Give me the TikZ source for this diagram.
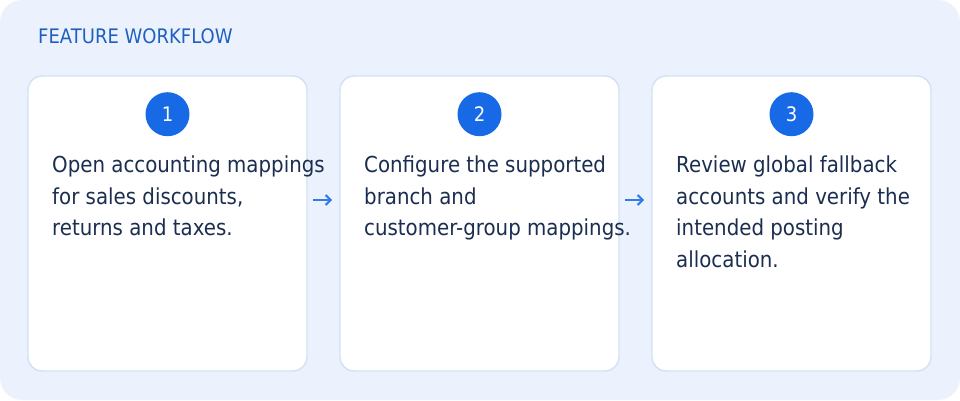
\documentclass[tikz,border=0pt]{standalone}
\usepackage{fontspec}
\setmainfont{DejaVu Sans}[FakeStretch=0.9]
\usepackage{tikz}
\usetikzlibrary{
	arrows.meta,
	positioning,
	calc
}
\definecolor{panelbg}{HTML}{EBF2FE}
\definecolor{cardline}{HTML}{D3E1F5}
\definecolor{badgeblue}{HTML}{1769E5}
\definecolor{titleblue}{HTML}{1F5FBF}
\definecolor{bodytext}{HTML}{1C2E50}
\definecolor{flowblue}{HTML}{2F7CEB}

\begin{document}
\begin{tikzpicture}[
			x=1pt, y=1pt,
			card/.style={
				rectangle, draw=cardline, line width=1.4pt, rounded corners=14pt,
				fill=white, minimum width=279pt, minimum height=295pt,
				inner sep=0pt, outer sep=0pt
			},
			badge/.style={
				circle, fill=badgeblue, minimum size=44pt, inner sep=0pt,
				text=white, font=\fontsize{20}{22}\selectfont
			},
			desc/.style={
				anchor=north west, align=left, inner sep=0pt,
				text=bodytext, font=\fontsize{22}{31.5}\selectfont
			},
			arrow/.style={-{Straight Barb[length=5pt,width=10pt]}, line width=2pt, flowblue,
				shorten <=6pt, shorten >=8pt}
			]
			
			% ---------------- PANEL ----------------
			\useasboundingbox (0,0) rectangle (960,400);
			\fill[panelbg, rounded corners=22pt] (0,0) rectangle (960,400);
			
			\node[anchor=base west, text=titleblue, font=\fontsize{20}{22}\selectfont, inner sep=0pt]
				(title) at (38,356) {FEATURE WORKFLOW};
			
			% ---------------- STEP 1 ----------------
			\node[card] (card1) at (167.5,176.5) {};
			\node[badge, below=16pt of card1.north] (b1) {1};
			\node[desc] (t1) at ($(card1.north west)+(24,-80)$) {Open accounting mappings\\for sales discounts,\\returns and taxes.};
			
			% ---------------- STEP 2 ----------------
			\node[card, right=33pt of card1] (card2) {};
			\node[badge, below=16pt of card2.north] (b2) {2};
			\node[desc] (t2) at ($(card2.north west)+(24,-80)$) {Configure the supported\\branch and\\customer-group mappings.};
			
			% ---------------- STEP 3 ----------------
			\node[card, right=33pt of card2] (card3) {};
			\node[badge, below=16pt of card3.north] (b3) {3};
			\node[desc] (t3) at ($(card3.north west)+(24,-80)$) {Review global fallback\\accounts and verify the\\intended posting\\allocation.};
			
			% ---------------- FLOW ----------------
			\draw[arrow] ([yshift=23.5pt]card1.east) -- ([yshift=23.5pt]card2.west);
			\draw[arrow] ([yshift=23.5pt]card2.east) -- ([yshift=23.5pt]card3.west);
		\end{tikzpicture}
\end{document}
